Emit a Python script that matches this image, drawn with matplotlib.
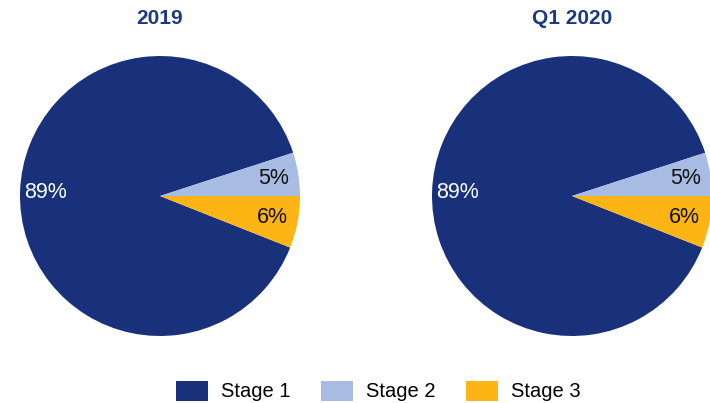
import matplotlib
matplotlib.use("Agg")
import matplotlib.pyplot as plt
from matplotlib.patches import Patch

plt.rcParams['font.family'] = ['Liberation Sans', 'DejaVu Sans']

titles = ["2019", "Q1 2020"]
categories = ["Stage 1", "Stage 2", "Stage 3"]
values_2019 = [89, 5, 6]
values_q1_2020 = [89, 5, 6]
series = [values_2019, values_q1_2020]
colors = ["#19307a", "#a7bbe3", "#fdb515"]
text_colors = ["white", "#111111", "#111111"]

W, H = 710, 403
fig = plt.figure(figsize=(W / 100, H / 100), dpi=100)

centers = [(160, 196), (572, 196)]
R = 140
for (cx, cy), vals, title in zip(centers, series, titles):
    ax = fig.add_axes([(cx - R) / W, (H - cy - R) / H, 2 * R / W, 2 * R / H])
    # Stage 1 ends at the top edge of Stage 2
    startangle = 360 * vals[1] / 100 + 360 * vals[0] / 100
    wedges, texts, autotexts = ax.pie(
        vals, colors=colors, startangle=startangle, counterclock=False,
        autopct=lambda p: f"{p:.0f}%", pctdistance=0.82, radius=1,
        wedgeprops=dict(linewidth=0), textprops=dict(fontsize=15.5))
    for t, c in zip(autotexts, text_colors):
        t.set_color(c)
    ax.set_xlim(-1, 1)
    ax.set_ylim(-1, 1)
    ax.set_aspect('auto')
    fig.text(cx / W, 1 - 18 / H, title, ha='center', va='center',
             fontsize=15, fontweight='bold', color='#1b3a80')

handles = [Patch(facecolor=c, edgecolor='none') for c in colors]
fig.legend(handles, categories, loc='center', bbox_to_anchor=(378 / W, 1 - 391 / H),
           ncol=3, frameon=False, fontsize=14.5, handlelength=1.6, handleheight=1.15,
           handletextpad=0.65, columnspacing=1.5)

fig.savefig("out.png", dpi=100)
